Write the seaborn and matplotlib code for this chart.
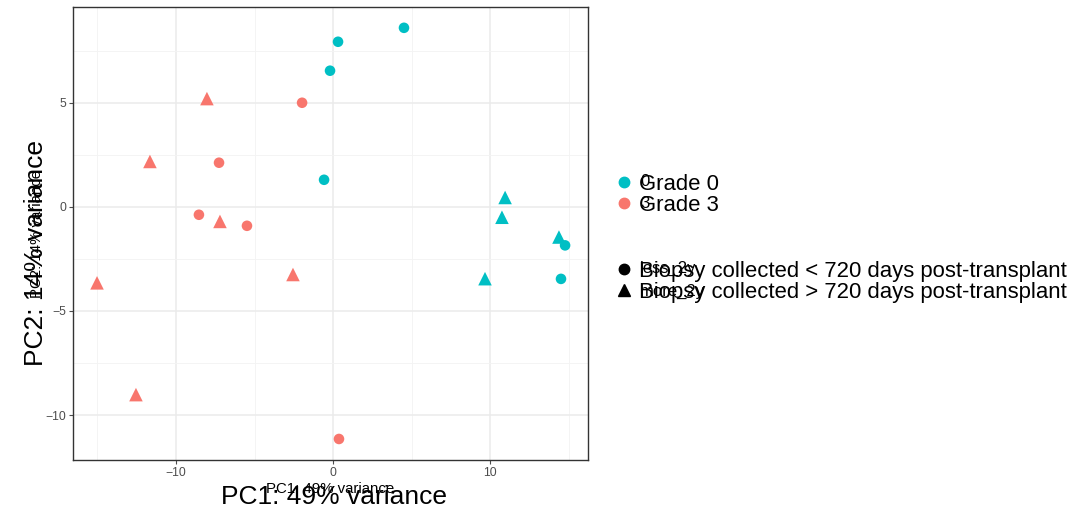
import matplotlib
matplotlib.use("Agg")
import matplotlib.pyplot as plt
import seaborn as sns
import pandas as pd
from matplotlib.lines import Line2D

# Data
pc1 = [0.32, 4.52, -0.19, -0.57, 14.78, 14.52,
       10.96, 10.76, 14.39, 9.68,
       -1.97, -7.26, -8.54, -5.48, 0.38,
       -8.03, -11.66, -7.20, -2.55, -15.03, -12.55]
pc2 = [7.93, 8.60, 6.54, 1.30, -1.85, -3.46,
       0.45, -0.50, -1.45, -3.45,
       5.00, 2.12, -0.38, -0.91, -11.15,
       5.20, 2.18, -0.70, -3.25, -3.65, -9.02]
grade = ["0"] * 10 + ["3"] * 11
time_group = (["less_2y"] * 6 + ["more_2y"] * 4 +
              ["less_2y"] * 5 + ["more_2y"] * 6)
grade_labels = ["Grade 0", "Grade 3"]
time_labels = ["Biopsy collected < 720 days post-transplant",
               "Biopsy collected > 720 days post-transplant"]

df = pd.DataFrame({"PC1": pc1, "PC2": pc2, "grade": grade, "time": time_group})

sns.set_theme(style="whitegrid")
plt.rcParams["font.family"] = ["Liberation Sans", "DejaVu Sans"]
plt.rcParams["text.color"] = "black"
plt.rcParams["axes.labelcolor"] = "black"

colors = {"0": "#00BFC4", "3": "#F8766D"}
markers = {"less_2y": "o", "more_2y": "^"}
sizes = {"less_2y": 58, "more_2y": 95}

fig = plt.figure(figsize=(10.71, 5.14), dpi=100)
ax = fig.add_axes([73 / 1071, 1 - 460 / 514, (588 - 73) / 1071, (460 - 7) / 514])

for tg in ["less_2y", "more_2y"]:
    sub = df[df["time"] == tg]
    sns.scatterplot(data=sub, x="PC1", y="PC2", hue="grade",
                    palette=colors, marker=markers[tg], s=sizes[tg],
                    linewidth=0, legend=False, ax=ax)

ax.set_xlim(-16.56, 16.24)
ax.set_ylim(-12.16, 9.6)
ax.set_xticks([-10, 0, 10])
ax.set_yticks([-10, -5, 0, 5])
ax.set_xticks([-15, -5, 5, 15], minor=True)
ax.set_yticks([-7.5, -2.5, 2.5, 7.5], minor=True)
ax.grid(True, which="major", color="#EBEBEB", linewidth=1.1)
ax.grid(True, which="minor", color="#F3F3F3", linewidth=0.6)
ax.set_axisbelow(True)
ax.set_facecolor("white")
for sp in ax.spines.values():
    sp.set_color("#333333")
    sp.set_linewidth(1.0)
ax.tick_params(axis="both", which="major", labelsize=8.8, colors="#4D4D4D",
               length=3, width=0.8, pad=2, left=True, bottom=True)
ax.tick_params(axis="both", which="minor", length=0)
ax.set_xlabel("PC1: 49% variance", fontsize=10.8, labelpad=2)
ax.set_ylabel("PC2: 14% variance", fontsize=10.8, labelpad=1)

# Large overlapping axis titles
fig.text(334 / 1071, 1 - 497 / 514, "PC1: 49% variance", fontsize=19,
         ha="center", va="center")
fig.text(36 / 1071, 1 - 253 / 514, "PC2: 14% variance", fontsize=19,
         ha="center", va="center", rotation=90)

# Legends
h1 = [Line2D([], [], marker="o", color=colors[g], linestyle="", markersize=7.5)
      for g in ["0", "3"]]
leg1 = fig.legend(h1, grade_labels, loc="upper left",
                  bbox_to_anchor=(609 / 1071, 1 - 165 / 514), frameon=False,
                  fontsize=15.9, handlelength=0.6, handletextpad=0.35,
                  labelspacing=0.0, borderaxespad=0)
h2 = [Line2D([], [], marker=m, color="black", linestyle="",
             markersize=7.5 if m == "o" else 9)
      for m in ["o", "^"]]
leg2 = fig.legend(h2, time_labels, loc="upper left",
                  bbox_to_anchor=(609 / 1071, 1 - 252 / 514), frameon=False,
                  fontsize=15.9, handlelength=0.6, handletextpad=0.35,
                  labelspacing=0.0, borderaxespad=0)

# Small overlapping legend labels
for lab, yy in zip(["0", "3"], [181, 204]):
    fig.text(640 / 1071, 1 - yy / 514, lab, fontsize=12, ha="left", va="center")
for lab, yy in zip(["less_2y", "more_2y"], [268, 291]):
    fig.text(640 / 1071, 1 - yy / 514, lab, fontsize=12, ha="left", va="center")

fig.savefig("out.png", dpi=100)
